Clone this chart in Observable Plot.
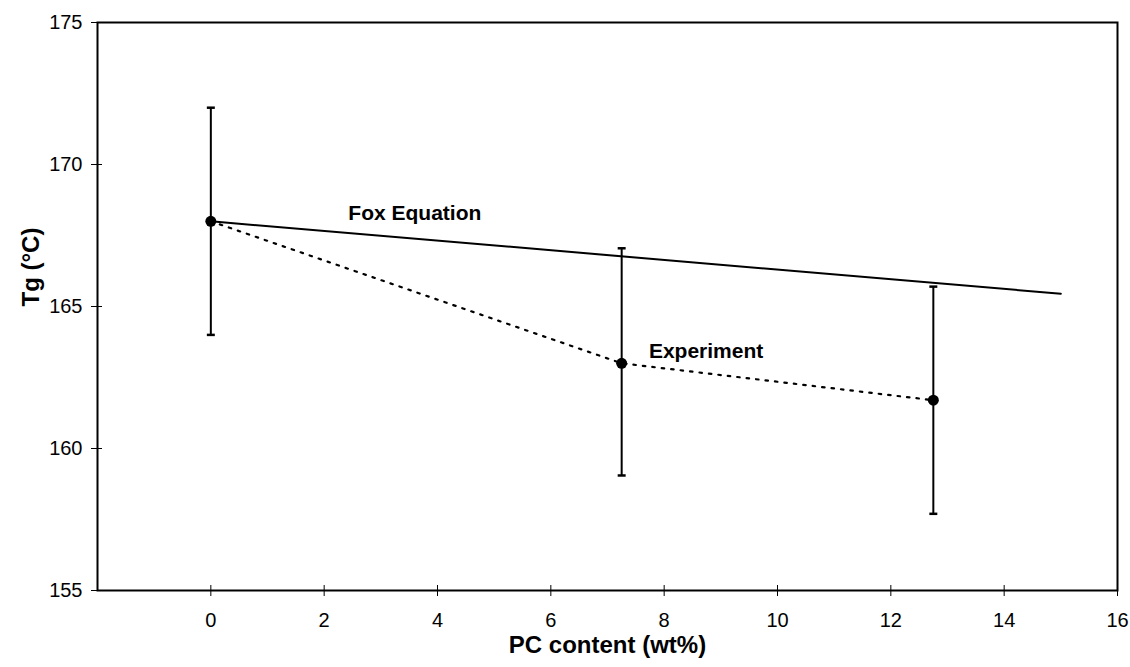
<!DOCTYPE html>
<html>
<head>
<meta charset="utf-8">
<script src="https://cdn.jsdelivr.net/npm/d3@7"></script>
<script src="https://cdn.jsdelivr.net/npm/@observablehq/plot@0.6"></script>
<style>
  html, body { margin: 0; padding: 0; background: #fff; }
  svg { display: block; }
</style>
</head>
<body>
<div id="chart"></div>
<script>
// Data
const expX = [0, 7.25, 12.75];
const expY = [168.0, 163.0, 161.7];
const expLow = [164.0, 159.05, 157.7];
const expHigh = [172.0, 167.05, 165.7];

const foxX = [0, 15];
const foxY = [168.0, 165.45];

const xTicks = [0, 2, 4, 6, 8, 10, 12, 14, 16];
const yTicks = [155, 160, 165, 170, 175];

const labelText = ["Fox Equation", "Experiment"];
const labelX = [3.6, 8.74];
const labelY = [168.27, 163.42];

const xTitle = "PC content (wt%)";
const yTitle = "Tg (°C)";

const exp = expX.map((x, i) => ({x, y: expY[i], lo: expLow[i], hi: expHigh[i]}));
const fox = foxX.map((x, i) => ({x, y: foxY[i]}));
const labels = labelText.map((t, i) => ({t, x: labelX[i], y: labelY[i]}));

const capSymbol = {
  draw(ctx, size) {
    const w = Math.sqrt(size) / 2;
    ctx.moveTo(-w, 0);
    ctx.lineTo(w, 0);
  }
};

const W = 1130, H = 667;
const mT = 22, mB = 77, mL = 97, mR = 13;
const plotH = H - mT - mB;
const plotW = W - mL - mR;

const chart = Plot.plot({
  width: W,
  height: H,
  marginTop: mT,
  marginBottom: mB,
  marginLeft: mL,
  marginRight: mR,
  style: {fontFamily: "Liberation Sans, Arial, sans-serif", fontSize: "20px", color: "#000", background: "#fff"},
  x: {domain: [-2, 16]},
  y: {domain: [155, 175]},
  marks: [
    Plot.frame({stroke: "#000", strokeWidth: 2}),
    Plot.axisX({ticks: xTicks, tickSize: 6, tickPadding: 16, label: null, fontSize: 20, stroke: "#000"}),
    Plot.axisY({ticks: yTicks, tickSize: 6, tickPadding: 9, label: null, fontSize: 20, stroke: "#000"}),
    // inward half of crossing ticks
    Plot.ruleX(xTicks, {x: d => d, insetTop: plotH - 5, stroke: "#000"}),
    Plot.ruleY(yTicks, {y: d => d, insetRight: plotW - 5, stroke: "#000"}),
    // Fox equation line
    Plot.line(fox, {x: "x", y: "y", stroke: "#000", strokeWidth: 2}),
    // Experiment dotted line
    Plot.line(exp, {x: "x", y: "y", stroke: "#000", strokeWidth: 2.2, strokeDasharray: "2.5,7"}),
    // Error bars
    Plot.ruleX(exp, {x: "x", y1: "lo", y2: "hi", stroke: "#000", strokeWidth: 2}),
    Plot.dot(exp, {x: "x", y: "lo", symbol: capSymbol, r: 4.5, stroke: "#000", strokeWidth: 2.5, fill: "none"}),
    Plot.dot(exp, {x: "x", y: "hi", symbol: capSymbol, r: 4.5, stroke: "#000", strokeWidth: 2.5, fill: "none"}),
    Plot.dot(exp, {x: "x", y: "y", r: 5.5, fill: "#000", stroke: "none"}),
    // Series labels
    Plot.text(labels, {x: "x", y: "y", text: "t", fontWeight: "bold", fontSize: 21, fill: "#000"}),
    // Axis titles
    Plot.text([xTitle], {frameAnchor: "bottom", dy: 62, text: d => d, fontWeight: "bold", fontSize: 24, fill: "#000"}),
    Plot.text([yTitle], {frameAnchor: "left", dx: -66, rotate: -90, text: d => d, fontWeight: "bold", fontSize: 24, fill: "#000"})
  ]
});
document.getElementById("chart").appendChild(chart);
</script>
</body>
</html>
